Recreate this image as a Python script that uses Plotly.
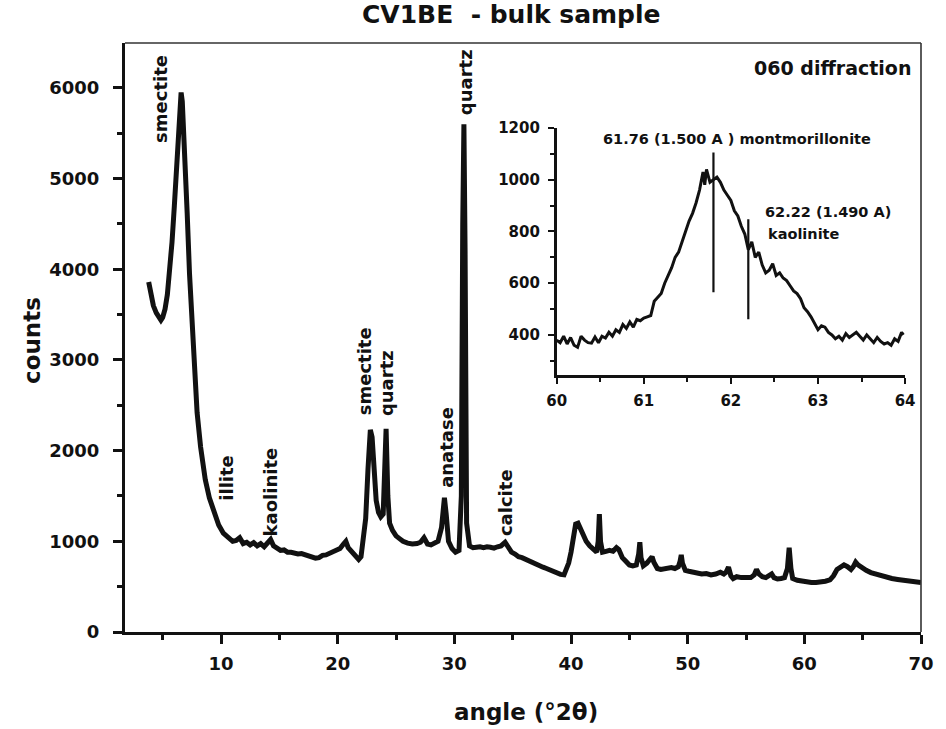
import plotly.graph_objects as go

# ---------------- data: main XRD pattern ----------------
angle = [3.8, 3.9, 4.0, 4.2, 4.45, 4.7, 4.85, 5.0, 5.2, 5.4, 5.6, 5.8, 6.0, 6.15, 6.3, 6.45, 6.58, 6.68,
         6.8, 6.95, 7.1, 7.3, 7.6, 7.95, 8.25, 8.65, 9.0, 9.4, 9.8, 10.2, 10.6, 11.0, 11.3, 11.6, 11.9,
         12.2, 12.5, 12.8, 13.1, 13.4, 13.7, 14.0, 14.25, 14.5, 14.8, 15.1, 15.4, 15.7, 16.0, 16.3, 16.6,
         16.9, 17.2, 17.5, 17.8, 18.1, 18.4, 18.7, 19.0, 19.3, 19.6, 19.9, 20.2, 20.5, 20.7, 20.9, 21.2,
         21.5, 21.8, 22.0, 22.2, 22.4, 22.6, 22.8, 22.95, 23.1, 23.3, 23.5, 23.7, 23.9, 24.05, 24.15, 24.3,
         24.45, 24.7, 25.0, 25.3, 25.6, 26.0, 26.4, 26.8, 27.1, 27.4, 27.7, 28.0, 28.3, 28.6, 28.9, 29.05,
         29.15, 29.3, 29.5, 29.8, 30.1, 30.4, 30.6, 30.72, 30.82, 30.92, 31.05, 31.3, 31.6, 31.9, 32.2,
         32.5, 32.8, 33.1, 33.4, 33.7, 34.0, 34.35, 34.6, 34.9, 35.2, 35.5, 35.8, 36.1, 36.4, 36.7, 37.0,
         37.3, 37.6, 37.9, 38.2, 38.5, 38.8, 39.1, 39.4, 39.6, 39.8, 40.0, 40.2, 40.4, 40.6, 40.8, 41.0,
         41.3, 41.6, 41.9, 42.2, 42.33, 42.43, 42.53, 42.7, 43.0, 43.3, 43.6, 43.9, 44.1, 44.4, 44.7, 45.0,
         45.3, 45.6, 45.8, 45.9, 46.0, 46.2, 46.5, 46.8, 46.95, 47.1, 47.4, 47.7, 48.0, 48.3, 48.6, 48.9,
         49.2, 49.35, 49.45, 49.55, 49.8, 50.1, 50.4, 50.8, 51.2, 51.6, 52.0, 52.4, 52.8, 53.1, 53.3, 53.5,
         53.7, 53.9, 54.2, 54.6, 55.0, 55.4, 55.7, 55.9, 56.1, 56.4, 56.7, 57.0, 57.2, 57.4, 57.7, 58.0,
         58.3, 58.55, 58.7, 58.85, 59.0, 59.4, 59.8, 60.2, 60.6, 61.0, 61.4, 61.8, 62.2, 62.5, 62.8, 63.1,
         63.4, 63.7, 64.0, 64.2, 64.4, 64.6, 64.9, 65.3, 65.7, 66.1, 66.5, 67.0, 67.5, 68.0, 68.5, 69.0,
         69.5, 70.0]
counts = [3860, 3800, 3700, 3600, 3520, 3470, 3440, 3470, 3560, 3720, 3950, 4300, 4700, 5050, 5380, 5750, 5950, 5850,
          5400, 5000, 4620, 3950, 3150, 2420, 2040, 1680, 1480, 1310, 1180, 1090, 1040, 1000, 1010, 1040, 975,
          990, 960, 985, 950, 975, 940, 980, 1020, 950, 920, 900, 905, 880, 880, 870, 860,
          865, 850, 845, 830, 815, 820, 845, 850, 865, 880, 900, 920, 970, 1000, 930, 880,
          830, 800, 830, 1000, 1250, 1800, 2230, 2150, 1750, 1450, 1320, 1270, 1300, 1900, 2240, 1500,
          1200, 1120, 1060, 1030, 1000, 980, 970, 975, 990, 1040, 970, 960, 980, 1000, 1150, 1400,
          1480, 1300, 1000, 920, 880, 900, 1500, 4500, 5600, 4200, 1200, 950, 930, 935, 940,
          930, 940, 935, 925, 940, 950, 990, 930, 880, 860, 830, 820, 800, 790, 770, 745,
          730, 715, 700, 685, 665, 645, 635, 630, 680, 760, 880, 1050, 1190, 1200, 1140, 1060,
          1000, 950, 910, 880, 1000, 1300, 1000, 880, 890, 900, 890, 930, 910, 820, 780, 740,
          730, 740, 860, 990, 820, 730, 760, 800, 830, 770, 700, 690, 700, 710, 710, 700,
          720, 780, 850, 760, 680, 670, 660, 650, 640, 645, 630, 640, 660, 640, 660, 715,
          620, 590, 610, 600, 595, 600, 630, 690, 640, 610, 600, 620, 640, 600, 585, 590,
          600, 700, 930, 700, 590, 570, 560, 555, 545, 545, 550, 560, 575, 620, 690, 720,
          740, 720, 690, 720, 770, 740, 710, 680, 655, 640, 620, 600, 590, 580, 570, 560,
          550, 545]

# ---------------- data: inset (060 diffraction) ----------------
inset_angle = [60.00, 60.04, 60.08, 60.12, 60.16, 60.20, 60.24, 60.28, 60.32, 60.36, 60.40, 60.44, 60.48,
               60.52, 60.56, 60.60, 60.64, 60.68, 60.72, 60.76, 60.80, 60.84, 60.88, 60.92, 60.96, 61.00,
               61.04, 61.08, 61.12, 61.16, 61.20, 61.24, 61.28, 61.32, 61.36, 61.40, 61.44, 61.48, 61.52,
               61.56, 61.60, 61.64, 61.68, 61.70, 61.72, 61.76, 61.80, 61.84, 61.88, 61.92, 61.96, 62.00,
               62.04, 62.08, 62.12, 62.16, 62.20, 62.24, 62.28, 62.32, 62.36, 62.40, 62.44, 62.48, 62.52,
               62.56, 62.60, 62.64, 62.68, 62.72, 62.76, 62.80, 62.84, 62.88, 62.92, 62.96, 63.00, 63.04,
               63.08, 63.12, 63.16, 63.20, 63.24, 63.28, 63.32, 63.36, 63.40, 63.44, 63.48, 63.52, 63.56,
               63.60, 63.64, 63.68, 63.72, 63.76, 63.80, 63.84, 63.88, 63.92, 63.96, 63.98]
inset_counts = [380, 370, 395, 365, 390, 360, 352, 395, 380, 370, 368, 392, 370,
                395, 388, 410, 395, 420, 410, 440, 425, 450, 430, 460, 455, 465,
                470, 475, 530, 545, 560, 600, 630, 660, 700, 720, 760, 800, 840,
                870, 910, 960, 1030, 980, 1040, 990, 1000, 1010, 990, 960, 940, 920,
                880, 860, 820, 790, 730, 760, 700, 720, 670, 640, 650, 675, 630,
                640, 620, 610, 590, 570, 560, 540, 505, 490, 470, 445, 420, 435,
                430, 410, 400, 385, 395, 380, 405, 390, 400, 410, 395, 380, 400,
                385, 370, 390, 375, 365, 370, 360, 385, 375, 410, 400]

# reference lines in the inset
ref_pos = [61.80, 62.20]
ref_top = [1105, 847]
ref_bottom = [565, 461]

# peak labels on main pattern
peak_names = ["smectite", "quartz", "illite", "kaolinite", "smectite", "quartz", "anatase", "calcite"]
peak_label_x = [4.86, 30.97, 10.5, 14.24, 22.3, 24.18, 29.27, 34.45]
peak_label_y = [5880, 6060, 1700, 1545, 2870, 2750, 2040, 1425]

FONT = "DejaVu Sans"
BLACK = "#111111"

fig = go.Figure()

fig.add_trace(go.Scatter(x=angle, y=counts, mode="lines",
                         line=dict(color=BLACK, width=5), xaxis="x", yaxis="y",
                         showlegend=False))

fig.add_trace(go.Scatter(x=inset_angle, y=inset_counts, mode="lines",
                         line=dict(color=BLACK, width=3), xaxis="x2", yaxis="y2",
                         showlegend=False))

for xp, yt, yb in zip(ref_pos, ref_top, ref_bottom):
    fig.add_trace(go.Scatter(x=[xp, xp], y=[yb, yt], mode="lines",
                             line=dict(color=BLACK, width=2.2), xaxis="x2", yaxis="y2",
                             showlegend=False))

tickfont = dict(family=FONT, size=18, color=BLACK)
inset_tickfont = dict(family=FONT, size=15, color=BLACK)

fig.update_layout(
    width=946, height=729,
    margin=dict(l=125, r=17, t=43, b=97),
    paper_bgcolor="white", plot_bgcolor="white",
    font=dict(family=FONT, color=BLACK, weight="bold"),
    xaxis=dict(range=[1.77, 70], domain=[0, 1], showgrid=False, zeroline=False,
               showline=True, linewidth=3, linecolor=BLACK,
               tickmode="array", tickvals=[10, 20, 30, 40, 50, 60, 70],
               ticks="outside", ticklen=9, tickwidth=2.5, tickcolor=BLACK,
               tickfont=tickfont, ticklabelstandoff=4,
               minor=dict(tickmode="array", tickvals=[5, 15, 25, 35, 45, 55, 65],
                          ticks="outside", ticklen=5, tickwidth=2.5, tickcolor=BLACK)),
    yaxis=dict(range=[0, 6496], domain=[0, 1], showgrid=False, zeroline=False,
               showline=True, linewidth=3, linecolor=BLACK,
               tickmode="array", tickvals=[0, 1000, 2000, 3000, 4000, 5000, 6000],
               ticks="outside", ticklen=9, tickwidth=2.5, tickcolor=BLACK,
               tickfont=tickfont, ticklabelstandoff=10,
               minor=dict(tickmode="array", tickvals=[500, 1500, 2500, 3500, 4500, 5500, 6500],
                          ticks="outside", ticklen=5, tickwidth=2.5, tickcolor=BLACK)),
    xaxis2=dict(range=[60, 64], domain=[0.5423, 0.980], anchor="y2", showgrid=False, zeroline=False,
                showline=True, linewidth=2.5, linecolor=BLACK,
                tickmode="array", tickvals=[60, 61, 62, 63, 64],
                ticks="outside", ticklen=6, tickwidth=2, tickcolor=BLACK,
                tickfont=inset_tickfont, ticklabelstandoff=4,
                minor=dict(tickmode="array", tickvals=[60.5, 61.5, 62.5, 63.5],
                           ticks="outside", ticklen=4, tickwidth=2, tickcolor=BLACK)),
    yaxis2=dict(range=[245, 1200], domain=[0.4363, 0.8557], anchor="x2", showgrid=False, zeroline=False,
                showline=True, linewidth=2.5, linecolor=BLACK,
                tickmode="array", tickvals=[400, 600, 800, 1000, 1200],
                ticks="outside", ticklen=6, tickwidth=2, tickcolor=BLACK,
                tickfont=inset_tickfont, ticklabelstandoff=5,
                minor=dict(tickmode="array", tickvals=[300, 500, 700, 900, 1100],
                           ticks="outside", ticklen=4, tickwidth=2, tickcolor=BLACK)),
    shapes=[
        dict(type="line", xref="paper", yref="paper", x0=0, x1=1, y0=1, y1=1,
             line=dict(color="#333333", width=1.6)),
        dict(type="line", xref="paper", yref="paper", x0=1, x1=1, y0=0, y1=1,
             line=dict(color="#333333", width=1.6)),
    ],
)

annotations = []
for name, lx, ly in zip(peak_names, peak_label_x, peak_label_y):
    annotations.append(dict(x=lx, y=ly, xref="x", yref="y", text=name, showarrow=False,
                            textangle=-90, xanchor="center", yanchor="middle",
                            font=dict(family=FONT, size=18, color=BLACK, weight="bold")))

annotations += [
    dict(x=(515 - 125) / 804, y=(632 - 15) / 589, xref="paper", yref="paper",
         xanchor="center", yanchor="middle",
         text="CV1BE  - bulk sample", showarrow=False,
         font=dict(family=FONT, size=25, color=BLACK, weight="bold")),
    dict(x=(530 - 125) / 804, y=(632 - 712) / 589, xref="paper", yref="paper",
         xanchor="center", yanchor="middle",
         text="angle (°2θ)", showarrow=False,
         font=dict(family=FONT, size=23, color=BLACK, weight="bold")),
    dict(x=(31 - 125) / 804, y=(632 - 340) / 589, xref="paper", yref="paper",
         xanchor="center", yanchor="middle",
         text="counts", showarrow=False, textangle=-90,
         font=dict(family=FONT, size=23, color=BLACK, weight="bold")),
    dict(x=(921 - 125) / 804, y=(632 - 68) / 589, xref="paper", yref="paper",
         xanchor="right", yanchor="middle",
         text="060 diffraction", showarrow=False,
         font=dict(family=FONT, size=19, color=BLACK, weight="bold")),
    dict(x=62.07, y=1158, xref="x2", yref="y2", xanchor="center", yanchor="middle",
         text="61.76 (1.500 A ) montmorillonite", showarrow=False,
         font=dict(family=FONT, size=14.5, color=BLACK, weight="bold")),
    dict(x=63.11, y=876, xref="x2", yref="y2", xanchor="center", yanchor="middle",
         text="62.22 (1.490 A)", showarrow=False,
         font=dict(family=FONT, size=14.5, color=BLACK, weight="bold")),
    dict(x=62.84, y=791, xref="x2", yref="y2", xanchor="center", yanchor="middle",
         text="kaolinite", showarrow=False,
         font=dict(family=FONT, size=14.5, color=BLACK, weight="bold")),
]
fig.update_layout(annotations=annotations)

fig.write_html("out.html")
